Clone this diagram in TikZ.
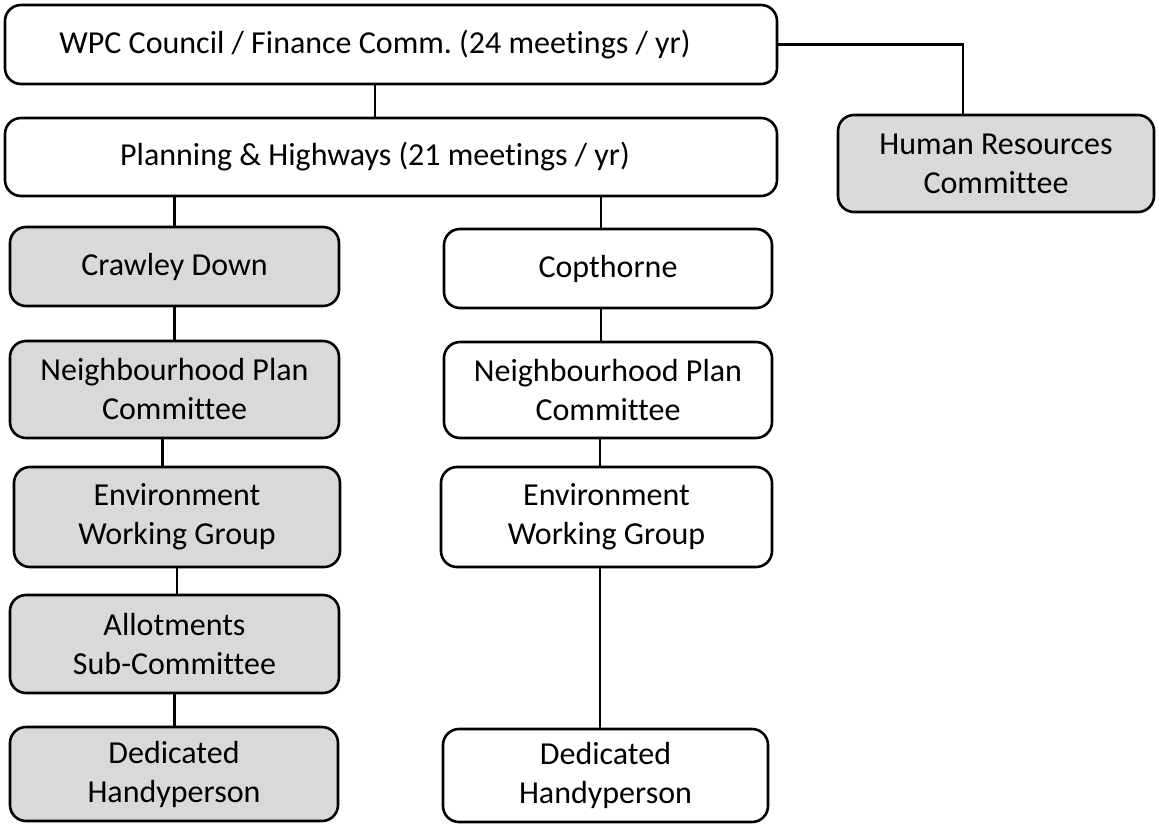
\documentclass[tikz,border=0pt]{standalone}
\usepackage{fontspec}
\setmainfont{Carlito}[Ligatures=NoCommon]
\definecolor{boxgrey}{HTML}{D9D9D9}
\tikzset{orgbox/.style={draw, line width=1.3pt, rounded corners=8pt, align=center,
  inner sep=0pt, font=\fontsize{16}{19.5}\selectfont},
  greybox/.style={orgbox, fill=boxgrey},
  link/.style={line width=1.3pt}}

\begin{document}
\begin{tikzpicture}[x=0.5pt, y=-0.5pt]
\useasboundingbox (0,0) rectangle (1159,824);

% council and committees
\node[orgbox, minimum width=386pt, minimum height=39.5pt] (wpc) at (391,44.5) {\hspace*{-16pt}WPC Council / Finance Comm.\ (24 meetings / yr)};
\node[orgbox, minimum width=386pt, minimum height=39pt] (plan) at (391,157) {\hspace*{-16pt}Planning \& Highways (21 meetings / yr)};
\node[greybox, minimum width=158pt, minimum height=48.5pt] (hr) at (996,163.5) {Human Resources\\Committee};

% Crawley Down
\node[greybox, minimum width=164.5pt, minimum height=39.5pt] (cd) at (174.5,266.5) {Crawley Down};
\node[greybox, minimum width=164.5pt, minimum height=48.5pt] (cdnp) at (174.5,389.5) {Neighbourhood Plan\\Committee};
\node[greybox, minimum width=163pt, minimum height=50pt] (cdenv) at (177,517) {Environment\\Working Group};
\node[greybox, minimum width=164.5pt, minimum height=49pt] (cdallot) at (174.5,644) {Allotments\\Sub-Committee};
\node[greybox, minimum width=164pt, minimum height=47pt] (cdhandy) at (174,774) {Dedicated\\Handyperson};

% Copthorne
\node[orgbox, minimum width=164pt, minimum height=39.5pt] (cop) at (608,268.5) {Copthorne};
\node[orgbox, minimum width=164pt, minimum height=48pt] (copnp) at (608,390) {Neighbourhood Plan\\Committee};
\node[orgbox, minimum width=165.5pt, minimum height=50pt] (copenv) at (606.5,517) {Environment\\Working Group};
\node[orgbox, minimum width=162.5pt, minimum height=46.5pt] (cophandy) at (605.5,775.5) {Dedicated\\Handyperson};

\draw[link] ([xshift=-8pt]wpc.south) -- ([xshift=-8pt]wpc.south |- plan.north);
\draw[link] (wpc.east) -| ([xshift=-16.5pt]hr.north);
\draw[link] (cd.north |- plan.south) -- (cd.north);
\draw[link] ([xshift=-3.5pt]cop.north |- plan.south) -- ([xshift=-3.5pt]cop.north);
\draw[link] (cd.south) -- (cd.south |- cdnp.north);
\draw[link] ([xshift=-6pt]cdnp.south) -- ([xshift=-6pt]cdnp.south |- cdenv.north);
\draw[link] (cdenv.south) -- (cdenv.south |- cdallot.north);
\draw[link] (cdallot.south) -- (cdallot.south |- cdhandy.north);
\draw[link] ([xshift=-3.5pt]cop.south) -- ([xshift=-3.5pt]cop.south |- copnp.north);
\draw[link] ([xshift=-4pt]copnp.south) -- ([xshift=-4pt]copnp.south |- copenv.north);
\draw[link] ([xshift=-3.25pt]copenv.south) -- ([xshift=-3.25pt]copenv.south |- cophandy.north);

\end{tikzpicture}
\end{document}
